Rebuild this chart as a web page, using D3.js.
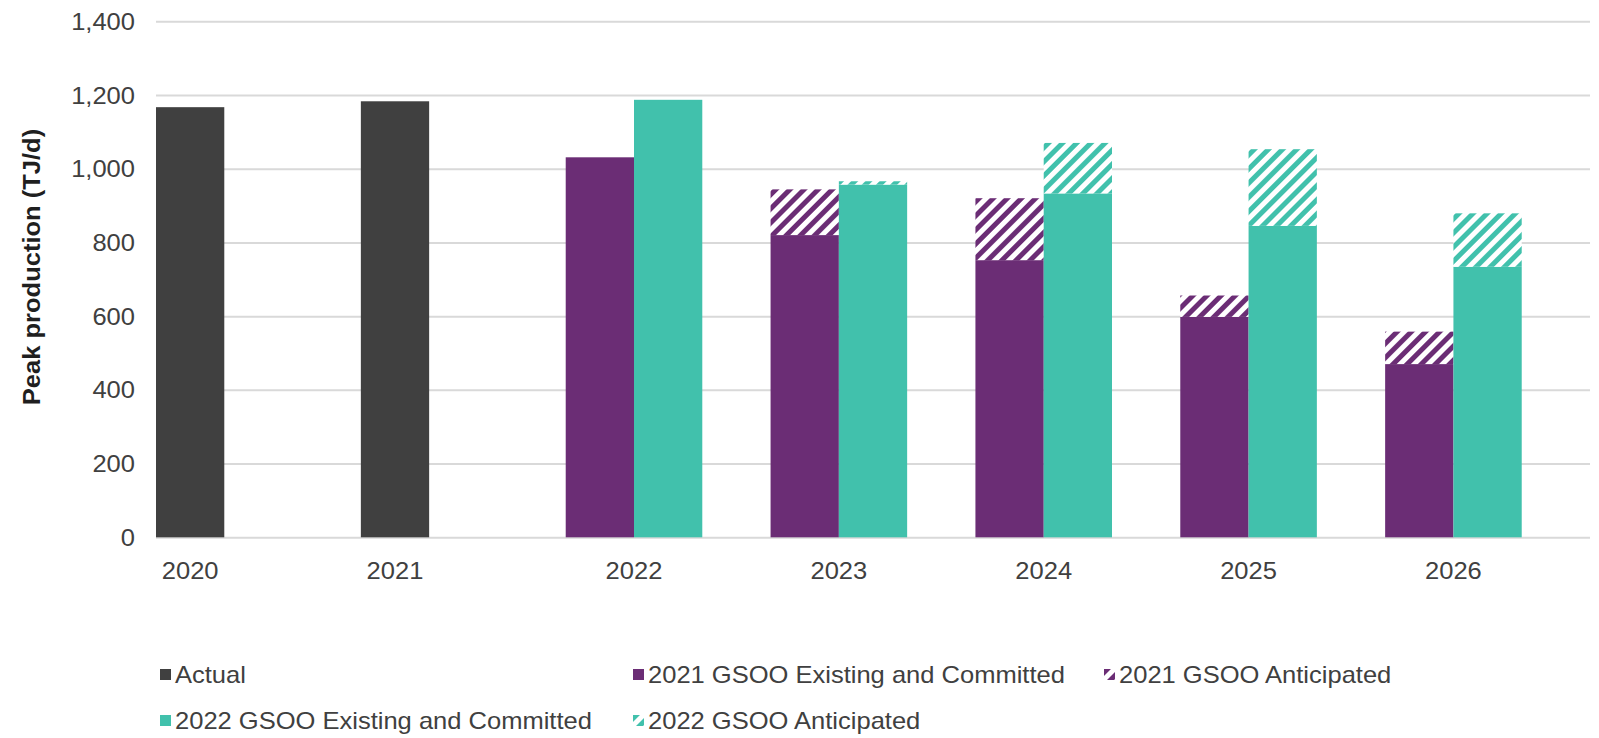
<!DOCTYPE html>
<html>
<head>
<meta charset="utf-8">
<script src="https://cdn.jsdelivr.net/npm/d3@7"></script>
<style>
  html, body { margin: 0; padding: 0; background: #ffffff; }
  svg { display: block; }
  text { font-family: "Liberation Sans", Arial, sans-serif; }
</style>
</head>
<body>
<svg id="chart" width="1599" height="738"></svg>
<script>
// Peak production by year, TJ/d
const years = ["2020", "2021", "2022", "2023", "2024", "2025", "2026"];
const actual = [1167, 1183, null, null, null, null, null];
const gsoo2021Existing = [null, null, 1031, 820, 752, 598, 470];
const gsoo2021Anticipated = [null, null, 0, 124, 168, 58, 88];
const gsoo2022Existing = [null, null, 1187, 957, 933, 845, 734];
const gsoo2022Anticipated = [null, null, 0, 9, 137, 208, 145];
const yTicks = [0, 200, 400, 600, 800, 1000, 1200, 1400];

const legendRows = [
  [
    { label: "Actual", key: "actual" },
    { label: "2021 GSOO Existing and Committed", key: "e2021" },
    { label: "2021 GSOO Anticipated", key: "a2021" }
  ],
  [
    { label: "2022 GSOO Existing and Committed", key: "e2022" },
    { label: "2022 GSOO Anticipated", key: "a2022" }
  ]
];

const colors = {
  actual: "#404040",
  purple: "#6b2d75",
  teal: "#41c1ac",
  grid: "#d9d9d9",
  text: "#404040"
};

const STRETCH = 1.11;   // text is set slightly wide
const FONT = 23;

const svg = d3.select("#chart");
const plot = { left: 156, right: 1590, top: 21.3, bottom: 537.3 };

const x = d3.scaleBand().domain(years).range([plot.left, plot.right]).paddingInner(0).paddingOuter(0);
const slot = d3.scaleBand().domain(["s0", "s1", "s2"]).range([0, x.bandwidth()]);
const y = d3.scaleLinear().domain([0, 1400]).range([plot.bottom, plot.top]);

// hatch patterns
const defs = svg.append("defs");
function hatch(id, color) {
  const p = defs.append("pattern")
    .attr("id", id)
    .attr("patternUnits", "userSpaceOnUse")
    .attr("width", 10).attr("height", 10)
    .attr("patternTransform", "rotate(45)");
  p.append("rect").attr("width", 10).attr("height", 10).attr("fill", "#ffffff");
  p.append("rect").attr("x", 0).attr("y", 0).attr("width", 5).attr("height", 10).attr("fill", color);
}
hatch("hatch-purple", colors.purple);
hatch("hatch-teal", colors.teal);

// y axis with gridlines
const yAxis = svg.append("g")
  .attr("transform", `translate(${plot.left},0)`)
  .call(d3.axisLeft(y).tickValues(yTicks).tickFormat(d3.format(",")).tickSize(-(plot.right - plot.left)).tickPadding(0));
yAxis.select(".domain").remove();
yAxis.selectAll(".tick line").attr("stroke", colors.grid).attr("stroke-width", 2);
yAxis.selectAll(".tick text")
  .attr("x", -21 / STRETCH)
  .attr("dy", "0.35em")
  .attr("transform", `scale(${STRETCH},1)`)
  .attr("fill", colors.text)
  .style("font-size", FONT + "px");

// bar segments
const segments = [];
years.forEach((yr, i) => {
  if (actual[i] != null) {
    segments.push({ year: yr, s: "s0", y0: 0, y1: actual[i], fill: colors.actual });
  }
  if (gsoo2021Existing[i] != null) {
    segments.push({ year: yr, s: "s0", y0: 0, y1: gsoo2021Existing[i], fill: colors.purple });
    if (gsoo2021Anticipated[i] > 0) {
      segments.push({ year: yr, s: "s0", y0: gsoo2021Existing[i], y1: gsoo2021Existing[i] + gsoo2021Anticipated[i], fill: "url(#hatch-purple)" });
    }
  }
  if (gsoo2022Existing[i] != null) {
    segments.push({ year: yr, s: "s1", y0: 0, y1: gsoo2022Existing[i], fill: colors.teal });
    if (gsoo2022Anticipated[i] > 0) {
      segments.push({ year: yr, s: "s1", y0: gsoo2022Existing[i], y1: gsoo2022Existing[i] + gsoo2022Anticipated[i], fill: "url(#hatch-teal)" });
    }
  }
});

svg.append("g").selectAll("rect")
  .data(segments)
  .join("rect")
  .attr("x", d => x(d.year) + slot(d.s))
  .attr("width", slot.bandwidth())
  .attr("y", d => y(d.y1))
  .attr("height", d => y(d.y0) - y(d.y1))
  .attr("fill", d => d.fill);

// category labels, centred under the bars drawn for each year
const labelX = yr => {
  const slots = [...new Set(segments.filter(d => d.year === yr).map(d => d.s))];
  return x(yr) + d3.mean(slots, s => slot(s) + slot.bandwidth() / 2);
};
svg.append("g").selectAll("text")
  .data(years)
  .join("text")
  .attr("transform", d => `translate(${labelX(d)},579) scale(${STRETCH},1)`)
  .attr("text-anchor", "middle")
  .attr("fill", colors.text)
  .style("font-size", FONT + "px")
  .text(d => d);

// y axis title
svg.append("text")
  .attr("transform", `translate(40,267) rotate(-90) scale(${STRETCH},1)`)
  .attr("text-anchor", "middle")
  .attr("fill", "#1f1f1f")
  .style("font-size", FONT + "px")
  .style("font-weight", "bold")
  .text("Peak production (TJ/d)");

// legend
const legendFill = {
  actual: colors.actual,
  e2021: colors.purple,
  a2021: "url(#hatch-purple)",
  e2022: colors.teal,
  a2022: "url(#hatch-teal)"
};
const colX = [160, 633, 1104];
const rowBase = [683, 729];
legendRows.forEach((row, r) => {
  row.forEach((item, c) => {
    const g = svg.append("g").attr("transform", `translate(${colX[c]},${rowBase[r]})`);
    g.append("rect")
      .attr("x", 0).attr("y", -14)
      .attr("width", 11).attr("height", 11)
      .attr("fill", legendFill[item.key]);
    g.append("text")
      .attr("transform", `translate(15,0) scale(${STRETCH},1)`)
      .attr("fill", colors.text)
      .style("font-size", FONT + "px")
      .text(item.label);
  });
});
</script>
</body>
</html>
